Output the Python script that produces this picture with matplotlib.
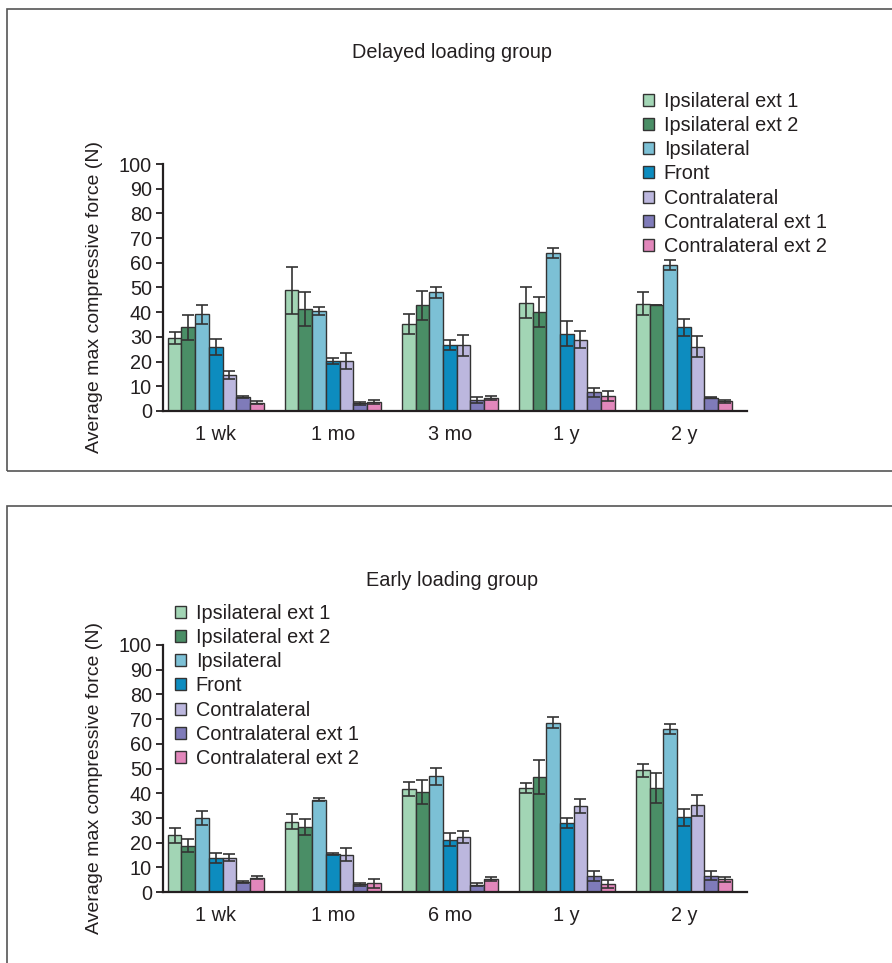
import numpy as np
import matplotlib
matplotlib.use("Agg")
import matplotlib.pyplot as plt
from matplotlib.patches import Rectangle

plt.rcParams['font.family'] = ['Liberation Sans', 'DejaVu Sans']

series = ["Ipsilateral ext 1", "Ipsilateral ext 2", "Ipsilateral", "Front",
          "Contralateral", "Contralateral ext 1", "Contralateral ext 2"]
colors = ["#a2d5b5", "#4a8e66", "#7cc0d5", "#0d8cbf", "#bcb7de", "#7f7bb9", "#e287bb"]

delayed_times = ["1 wk", "1 mo", "3 mo", "1 y", "2 y"]
# rows = series, cols = time points
delayed_mean = [
    [29.5, 48.8, 35.2, 43.9, 43.5],
    [33.9, 41.3, 42.8, 40.1, 43.0],
    [39.2, 40.6, 48.1, 63.8, 59.2],
    [25.9, 20.2, 26.6, 31.3, 33.9],
    [14.5, 20.3, 26.6, 28.9, 26.0],
    [5.6, 3.1, 4.6, 7.5, 5.4],
    [3.4, 3.7, 5.1, 6.1, 3.9],
]
delayed_err = [
    [2.5, 9.5, 4.0, 6.4, 4.5],
    [5.0, 7.0, 5.8, 6.0, 0.0],
    [3.8, 1.7, 2.2, 2.0, 2.0],
    [3.2, 1.1, 2.0, 5.0, 3.5],
    [1.5, 3.2, 4.3, 3.5, 4.3],
    [0.4, 0.5, 1.2, 2.0, 0.3],
    [0.5, 0.7, 0.8, 2.0, 0.5],
]

early_times = ["1 wk", "1 mo", "6 mo", "1 y", "2 y"]
early_mean = [
    [23.0, 28.4, 41.6, 42.0, 49.2],
    [18.8, 26.4, 40.5, 46.5, 42.0],
    [30.0, 37.4, 46.8, 68.6, 66.1],
    [13.9, 15.3, 21.2, 28.0, 30.3],
    [13.9, 15.1, 22.2, 34.7, 35.1],
    [4.1, 3.2, 3.0, 6.6, 6.6],
    [5.8, 3.6, 5.1, 3.2, 5.1],
]
early_err = [
    [3.0, 3.0, 2.8, 2.0, 2.8],
    [2.8, 3.3, 5.0, 7.0, 6.0],
    [2.7, 0.6, 3.4, 2.3, 2.0],
    [2.0, 0.5, 2.5, 2.1, 3.5],
    [1.5, 2.6, 2.4, 2.9, 4.2],
    [0.5, 0.6, 0.6, 2.1, 1.8],
    [0.7, 1.8, 0.8, 1.5, 1.0],
]

TXT = "#231f20"
EDGE = "#333333"
FS = 14.3


def draw_panel(fig, rect, times, means, errs, title, title_xy, leg_xy):
    ax = fig.add_axes(rect)
    x = np.arange(len(times))
    w = 0.117
    for j in range(len(series)):
        ax.bar(x + (j - 3) * w, means[j], w, color=colors[j], edgecolor=EDGE,
               linewidth=1.0, label=series[j], zorder=2)
        ax.errorbar(x + (j - 3) * w, means[j], yerr=errs[j], fmt="none",
                    ecolor=EDGE, elinewidth=1.2, capsize=4, capthick=1.2, zorder=3)
    ax.set_xlim(-0.45, 4.54)
    ax.set_ylim(0, 100)
    ax.set_yticks(np.arange(0, 101, 10))
    ax.set_xticks(x)
    ax.set_xticklabels(times)
    ax.tick_params(axis="x", length=0, pad=10, labelsize=FS, colors=TXT)
    ax.tick_params(axis="y", length=5, width=1.3, pad=3, labelsize=FS, colors=TXT)
    for s in ["top", "right"]:
        ax.spines[s].set_visible(False)
    for s in ["left", "bottom"]:
        ax.spines[s].set_linewidth(1.6)
        ax.spines[s].set_color(TXT)
    fig.text(title_xy[0], title_xy[1], title, ha="center", va="center",
             fontsize=FS, color=TXT)
    fig.text(0.1065, rect[1] + rect[3] / 2 - 0.01, "Average max compressive force (N)",
             rotation=90, ha="center", va="center", fontsize=14, color=TXT)
    leg = ax.legend(loc="upper left", bbox_to_anchor=leg_xy, bbox_transform=fig.transFigure,
                    frameon=False, fontsize=FS, handlelength=0.55, handleheight=0.55,
                    handletextpad=0.5, labelspacing=0.26, borderpad=0, borderaxespad=0)
    for t in leg.get_texts():
        t.set_color(TXT)
    return ax


fig = plt.figure(figsize=(8.92, 9.63), dpi=100)

# panel frames
fig.patches.append(Rectangle((7 / 892, 1 - 471 / 963), 1.0, (471 - 9) / 963,
                             transform=fig.transFigure, fill=False,
                             edgecolor="#555555", linewidth=1.2))
fig.patches.append(Rectangle((7 / 892, -0.05), 1.0, 0.05 + (963 - 506) / 963,
                             transform=fig.transFigure, fill=False,
                             edgecolor="#555555", linewidth=1.2))

draw_panel(fig, [163 / 892, 1 - 411 / 963, 584 / 892, 247 / 963],
           delayed_times, delayed_mean, delayed_err, "Delayed loading group",
           (452 / 892, 1 - 53 / 963), (643 / 892, 1 - 92 / 963))
draw_panel(fig, [163 / 892, 1 - 892 / 963, 584 / 892, 247 / 963],
           early_times, early_mean, early_err, "Early loading group",
           (452 / 892, 1 - 580 / 963), (175 / 892, 1 - 604 / 963))

fig.savefig("out.png", dpi=100)
